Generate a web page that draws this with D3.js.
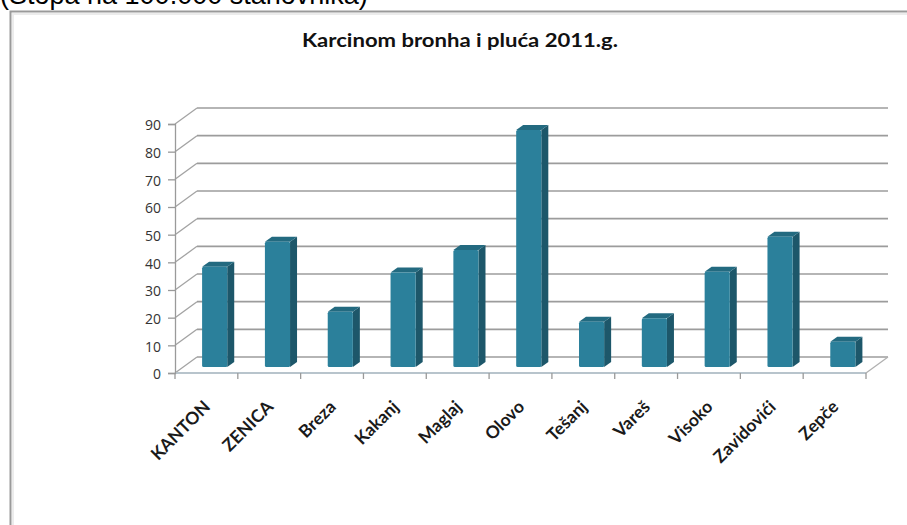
<!DOCTYPE html>
<html>
<head>
<meta charset="utf-8">
<script src="https://cdn.jsdelivr.net/npm/d3@7"></script>
<style>
html,body{margin:0;padding:0;background:#fff;}
svg{display:block;}
</style>
</head>
<body>
<svg id="chart" width="907" height="525"></svg>
<script>
const categories = ["KANTON","ZENICA","Breza","Kakanj","Maglaj","Olovo","Tešanj","Vareš","Visoko","Zavidovići","Zepče"];
const values = [36.2, 45.3, 20.0, 34.2, 42.3, 85.7, 16.4, 17.6, 34.4, 47.1, 9.1];
const yTicks = [0,10,20,30,40,50,60,70,80,90];
const titleText = "Karcinom bronha i pluća 2011.g.";
const topText = "(Stopa na 100.000 stanovnika)";

const svg = d3.select("#chart");

// top caption (cut off at the top edge, as in the reference)
svg.append("text").attr("x", 0).attr("y", 4)
  .attr("font-family", "Liberation Sans, Arial, sans-serif").attr("font-size", 27)
  .attr("fill", "#000").text(topText);

// chart border
svg.append("path").attr("d", "M10.5,525 L10.5,11.5 L910,11.5")
  .attr("fill", "none").attr("stroke", "#9a9a9a").attr("stroke-width", 2);
svg.append("path").attr("d", "M13,525 L13,14 L910,14")
  .attr("fill", "none").attr("stroke", "#ececec").attr("stroke-width", 2);

// title
svg.append("text").attr("x", 460).attr("y", 46.5).attr("text-anchor", "middle")
  .attr("font-family", "Lato, sans-serif").attr("font-weight", "bold").attr("font-size", 19)
  .attr("fill", "#111").attr("textLength", 316).attr("lengthAdjust", "spacingAndGlyphs")
  .text(titleText);

// scales
const x = d3.scaleBand().domain(categories).range([175, 866]).paddingInner(0).paddingOuter(0);
const y = d3.scaleLinear().domain([0, 90]).range([373, 124]);
const DX = 22, DY = -16; // depth of floor
const f0 = 0.375;       // depth position of bar front face
const bdx = 7, bdy = -5; // bar depth

const grid = svg.append("g");
yTicks.forEach(v => {
  const yy = y(v);
  grid.append("line").attr("x1", x.range()[0] + DX).attr("x2", x.range()[1] + DX)
    .attr("y1", yy + DY).attr("y2", yy + DY)
    .attr("stroke", "#9c9c9c").attr("stroke-width", 1.6);
  grid.append("line").attr("x1", x.range()[0]).attr("x2", x.range()[0] + DX)
    .attr("y1", yy).attr("y2", yy + DY)
    .attr("stroke", "#a3a3a3").attr("stroke-width", 1.3);
});
grid.append("line").attr("x1", x.range()[0]).attr("x2", x.range()[1])
  .attr("y1", y(0)).attr("y2", y(0)).attr("stroke", "#b8c4cc").attr("stroke-width", 2);
grid.append("line").attr("x1", x.range()[1]).attr("x2", x.range()[1] + DX)
  .attr("y1", y(0)).attr("y2", y(0) + DY).attr("stroke", "#b0b0b0").attr("stroke-width", 1.3);

// y axis
const yAxis = d3.axisLeft(y).tickValues(yTicks).tickSize(7).tickPadding(7);
const gy = svg.append("g").attr("transform", `translate(${x.range()[0]},0)`).call(yAxis);
gy.select(".domain").attr("stroke", "#9a9a9a").attr("stroke-width", 1.3);
gy.selectAll(".tick line").attr("stroke", "#9a9a9a").attr("stroke-width", 1.3);
gy.selectAll(".tick text").attr("font-family", "Open Sans, sans-serif").attr("font-size", 14)
  .attr("fill", "#333").attr("dy", "0.42em");

// x ticks at band boundaries
const bounds = categories.map(c => x(c)).concat([x.range()[1]]);
svg.append("g").selectAll("line").data(bounds).join("line")
  .attr("x1", d => d).attr("x2", d => d).attr("y1", y(0)).attr("y2", y(0) + 6)
  .attr("stroke", "#9a9a9a").attr("stroke-width", 1.3);

// bars
const bw = x.bandwidth() / 2.5;
const bars = svg.append("g").selectAll("g").data(categories.map((c, i) => ({c, v: values[i]}))).join("g");
bars.each(function(d) {
  const g = d3.select(this);
  const cx = x(d.c) + x.bandwidth() / 2 + DX * f0;
  const x0 = cx - bw / 2, x1 = cx + bw / 2;
  const yb = y(0) + DY * f0, yt = y(d.v) + DY * f0;
  g.append("polygon").attr("points", [[x1, yb], [x1 + bdx, yb + bdy], [x1 + bdx, yt + bdy], [x1, yt]].join(" "))
    .attr("fill", "#1d576a");
  g.append("polygon").attr("points", [[x0, yt], [x1, yt], [x1 + bdx, yt + bdy], [x0 + bdx, yt + bdy]].join(" "))
    .attr("fill", "#236a80");
  g.append("rect").attr("x", x0).attr("y", yt).attr("width", bw).attr("height", yb - yt)
    .attr("fill", "#2b809b").attr("rx", 1.5);
});

// x labels
svg.append("g").selectAll("text").data(categories).join("text")
  .attr("transform", d => `translate(${x(d) + x.bandwidth() / 2 + 5},408) rotate(-45)`)
  .attr("text-anchor", "end")
  .attr("font-family", "Lato, sans-serif").attr("font-weight", "bold").attr("font-size", 17.5)
  .attr("fill", "#1a1a1a").text(d => d);
</script>
</body>
</html>
